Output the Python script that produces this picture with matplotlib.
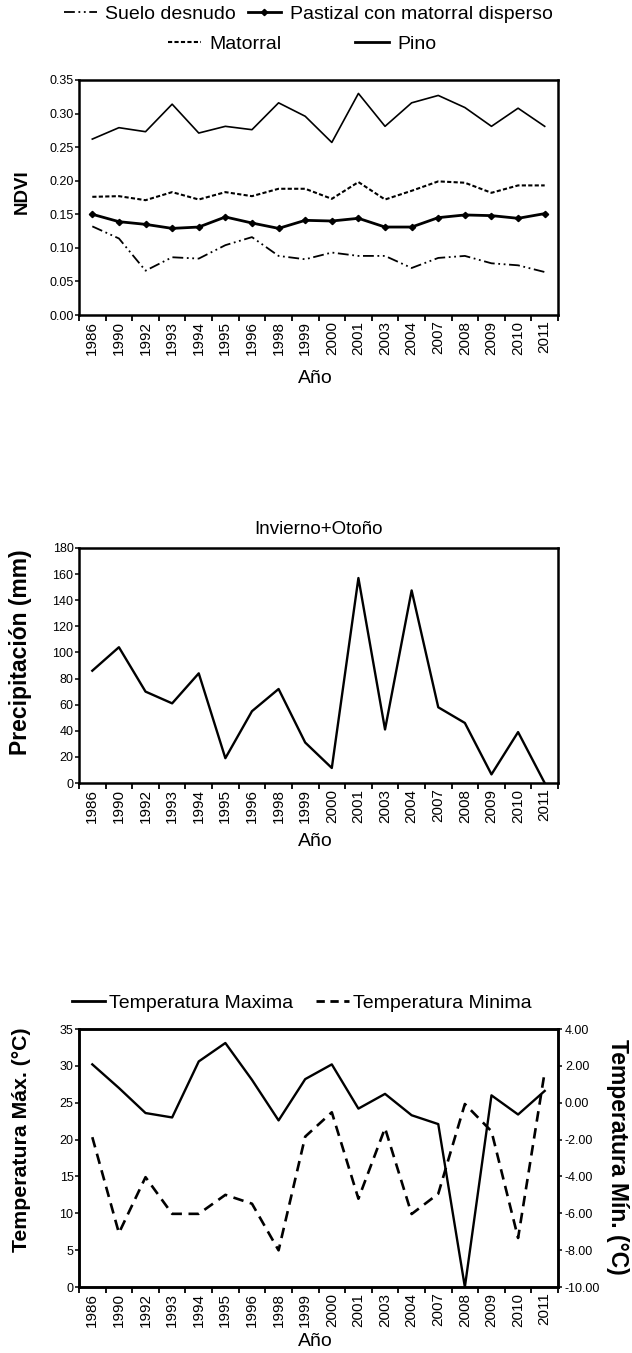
import matplotlib.pyplot as plt
import numpy as np
from matplotlib.lines import Line2D
from matplotlib.legend_handler import HandlerLine2D
from matplotlib.ticker import FormatStrFormatter, FixedLocator

plt.rcParams['font.family'] = ['Liberation Sans', 'DejaVu Sans']

years = ['1986', '1990', '1992', '1993', '1994', '1995', '1996', '1998', '1999',
         '2000', '2001', '2003', '2004', '2007', '2008', '2009', '2010', '2011']

# NDVI por cobertura
pino = [0.262, 0.279, 0.273, 0.314, 0.271, 0.281, 0.276, 0.316, 0.296,
        0.257, 0.330, 0.281, 0.316, 0.327, 0.309, 0.281, 0.308, 0.281]
matorral = [0.176, 0.177, 0.171, 0.183, 0.172, 0.183, 0.177, 0.188, 0.188,
            0.173, 0.198, 0.172, 0.185, 0.199, 0.197, 0.182, 0.193, 0.193]
pastizal = [0.150, 0.139, 0.135, 0.129, 0.131, 0.146, 0.137, 0.129, 0.141,
            0.140, 0.144, 0.131, 0.131, 0.145, 0.149, 0.148, 0.144, 0.151]
suelo = [0.132, 0.114, 0.066, 0.086, 0.084, 0.104, 0.116, 0.088, 0.083,
         0.093, 0.088, 0.088, 0.070, 0.085, 0.088, 0.077, 0.074, 0.064]

# precipitacion invierno+otono (mm)
precip = [86, 104, 70, 61, 84, 19, 55, 72, 31, 11.5, 157, 41, 147.5, 58, 46, 6.6, 39, 0]

# temperaturas (C)
tmax = [30.2, 27.0, 23.6, 23.0, 30.6, 33.1, 28.1, 22.6, 28.2,
        30.2, 24.2, 26.2, 23.3, 22.1, 0.0, 26.0, 23.4, 26.6]
tmin = [-1.87, -7.07, -4.04, -6.03, -6.03, -5.0, -5.48, -8.01, -1.84,
        -0.52, -5.21, -1.38, -6.04, -4.94, -0.07, -1.55, -7.34, 1.67]

x = np.arange(len(years))

W, H = 632, 1353
fig = plt.figure(figsize=(W / 100, H / 100), dpi=100)

LS_SUELO = (0, (6, 2, 1, 2, 1, 2))
LS_MAT = (0, (2, 1.1))


class LeftMarker(HandlerLine2D):
    # marker at the left end of the legend line, like the original
    def get_xdata(self, legend, xdescent, ydescent, width, height, fontsize):
        return [-xdescent, -xdescent + width], [-xdescent + 2]


def make_axes(top, bottom):
    left, right = 79, 558
    return fig.add_axes([left / W, 1 - bottom / H, (right - left) / W, (bottom - top) / H])


def style_axes(ax, ano_y):
    for s in ax.spines.values():
        s.set_linewidth(1.8)
    ax.set_xlim(-0.5, len(years) - 0.5)
    ax.set_xticks(x)
    ax.set_xticklabels(years, rotation=90, fontsize=11)
    ax.xaxis.set_minor_locator(FixedLocator(np.arange(-0.5, len(years), 1.0)))
    ax.tick_params(axis='x', which='major', length=0, pad=4)
    ax.tick_params(axis='x', which='minor', length=4, width=1.3, direction='out')
    ax.tick_params(axis='y', which='major', length=3, width=1.1, direction='out',
                   labelsize=9, pad=1)
    ax.set_xlabel('Año', fontsize=14, va='center')
    ax.xaxis.set_label_coords(0.493, ano_y)


# ---- panel 1: NDVI
ax1 = make_axes(80, 315)
ax1.plot(x, pino, color='black', lw=1.2)
ax1.plot(x, matorral, color='black', lw=1.5, ls=LS_MAT)
ax1.plot(x, pastizal, color='black', lw=2.0, marker='D', ms=3.2)
ax1.plot(x, suelo, color='black', lw=1.3, ls=LS_SUELO)
ax1.set_ylim(0, 0.35)
ax1.set_yticks(np.arange(0, 0.351, 0.05))
ax1.yaxis.set_major_formatter(FormatStrFormatter('%.2f'))
ax1.set_ylabel('NDVI', fontsize=13.5, fontweight='bold', va='center')
ax1.yaxis.set_label_coords(-0.119, 0.523)
style_axes(ax1, -0.272)

h_suelo = Line2D([], [], color='black', lw=1.3, ls=LS_SUELO)
h_past = Line2D([], [], color='black', lw=2.0, marker='D', ms=3.2)
h_mat = Line2D([], [], color='black', lw=1.5, ls=LS_MAT)
h_pino = Line2D([], [], color='black', lw=2.0)
leg_kw = dict(frameon=False, fontsize=14, handlelength=1.7, handletextpad=0.45,
              borderpad=0, handler_map={h_past: LeftMarker()})
fig.legend([h_suelo, h_past], ['Suelo desnudo', 'Pastizal con matorral disperso'],
           loc='center', bbox_to_anchor=(308 / W, 1 - 14 / H), ncol=2,
           columnspacing=0.6, **leg_kw)
fig.legend([h_mat, h_pino], ['Matorral', 'Pino'],
           loc='center', bbox_to_anchor=(302 / W, 1 - 44 / H), ncol=2,
           columnspacing=3.8, **leg_kw)

# ---- panel 2: precipitacion
ax2 = make_axes(548, 783)
ax2.plot(x, precip, color='black', lw=1.7)
ax2.set_ylim(0, 180)
ax2.set_yticks(np.arange(0, 181, 20))
ax2.set_ylabel('Precipitación (mm)', fontsize=16.5, fontweight='bold', va='center')
ax2.yaxis.set_label_coords(-0.123, 0.557)
ax2.set_title('Invierno+Otoño', fontsize=13.5, pad=10)
style_axes(ax2, -0.251)

# ---- panel 3: temperaturas
ax3 = make_axes(1029, 1287)
ax3.plot(x, tmax, color='black', lw=1.7)
ax3.set_ylim(0, 35)
ax3.set_yticks(np.arange(0, 36, 5))
ax3.set_ylabel('Temperatura Máx. (°C)', fontsize=15.3, fontweight='bold', va='center')
ax3.yaxis.set_label_coords(-0.119, 0.57)
style_axes(ax3, -0.213)

ax3b = ax3.twinx()
ax3b.plot(x, tmin, color='black', lw=1.9, ls=(0, (4, 2.5)))
ax3b.set_ylim(-10, 4)
ax3b.set_yticks(np.arange(-10, 4.1, 2))
ax3b.yaxis.set_major_formatter(FormatStrFormatter('%.2f'))
ax3b.tick_params(axis='y', length=3, width=1.1, direction='out', labelsize=9, pad=2)
ax3b.set_ylabel('Temperatura Mín. (°C)', fontsize=16.5, fontweight='bold',
                rotation=-90, va='center')
ax3b.yaxis.set_label_coords(1.125, 0.504)
for s in ax3b.spines.values():
    s.set_linewidth(1.8)

h_max = Line2D([], [], color='black', lw=2.0)
h_min = Line2D([], [], color='black', lw=2.0, ls=(0, (3, 2)))
fig.legend([h_max, h_min], ['Temperatura Maxima', 'Temperatura Minima'],
           loc='center', bbox_to_anchor=(302 / W, 1 - 1003 / H), ncol=2,
           frameon=False, fontsize=14, handlelength=1.7, handletextpad=0.2,
           columnspacing=1.2, borderpad=0)

fig.savefig('out.png', dpi=100)
